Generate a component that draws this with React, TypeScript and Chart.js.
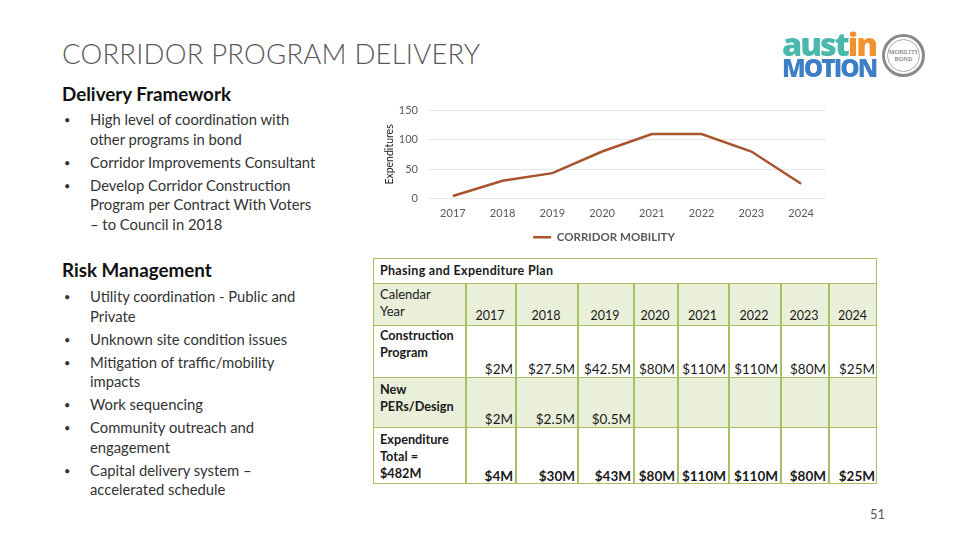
import React, { useEffect, useRef } from "react";
import { Chart, registerables } from "chart.js";

Chart.register(...registerables);

const years = ["2017", "2018", "2019", "2020", "2021", "2022", "2023", "2024"];
const expenditures = [4, 30, 43, 80, 110, 110, 80, 25];
const yTicks = [0, 50, 100, 150];
const seriesName = "CORRIDOR MOBILITY";

const constructionRow = ["$2M", "$27.5M", "$42.5M", "$80M", "$110M", "$110M", "$80M", "$25M"];
const designRow = ["$2M", "$2.5M", "$0.5M", "", "", "", "", ""];
const totalRow = ["$4M", "$30M", "$43M", "$80M", "$110M", "$110M", "$80M", "$25M"];

const deliveryBullets = [
  "High level of coordination with other programs in bond",
  "Corridor Improvements Consultant",
  "Develop Corridor Construction Program per Contract With Voters – to Council in 2018",
];
const riskBullets = [
  "Utility coordination - Public and Private",
  "Unknown site condition issues",
  "Mitigation of traffic/mobility impacts",
  "Work sequencing",
  "Community outreach and engagement",
  "Capital delivery system – accelerated schedule",
];

const FONT = "Lato, 'Open Sans', sans-serif";
const GREEN_BG = "#e9efd9";
const GREEN_BORDER = "#a8c060";

function LineChart() {
  const ref = useRef<HTMLCanvasElement | null>(null);
  useEffect(() => {
    if (!ref.current) return;
    const chart = new Chart(ref.current, {
      type: "line",
      data: {
        labels: years,
        datasets: [
          {
            label: seriesName,
            data: expenditures,
            borderColor: "#a9532f",
            backgroundColor: "#a9532f",
            borderWidth: 2.5,
            pointRadius: 0,
            tension: 0,
          },
        ],
      },
      options: {
        animation: false,
        responsive: false,
        maintainAspectRatio: false,
        layout: { padding: { left: 0, right: 4, top: 10, bottom: 0 } },
        plugins: {
          legend: {
            position: "bottom",
            labels: {
              usePointStyle: true,
              pointStyle: "line",
              pointStyleWidth: 18,
              color: "#595959",
              font: { family: FONT, size: 11.5, weight: "bold" },
              padding: 2,
            },
          },
          tooltip: { enabled: false },
        },
        scales: {
          x: {
            offset: true,
            grid: { display: false, drawTicks: false },
            border: { display: false },
            ticks: { color: "#595959", font: { family: FONT, size: 11 }, padding: 9 },
          },
          y: {
            min: 0,
            max: 150,
            afterBuildTicks: (axis: any) => {
              axis.ticks = yTicks.map((v) => ({ value: v }));
            },
            afterFit: (axis: any) => {
              axis.width = 46;
            },
            grid: { color: "#e6e6e6", drawTicks: false },
            border: { display: false },
            ticks: { color: "#595959", font: { family: FONT, size: 11 }, padding: 10 },
            title: {
              display: true,
              text: "Expenditures",
              color: "#222",
              font: { family: FONT, size: 10.5 },
              padding: 1,
            },
          },
        },
      },
    });
    return () => chart.destroy();
  }, []);
  return <canvas ref={ref} width={448} height={159} style={{ position: "absolute", left: 382, top: 94, width: 448, height: 159 }} />;
}

function Bullets({ items, top }: { items: string[]; top: number }) {
  return (
    <div style={{ position: "absolute", left: 62, top, width: 259, fontFamily: FONT, fontSize: 14.8, color: "#333", lineHeight: "19.5px" }}>
      {items.map((t, i) => (
        <div key={i} style={{ position: "relative", paddingLeft: 28, marginBottom: 3.5 }}>
          <span style={{ position: "absolute", left: 2, top: 0, fontSize: 11 }}>•</span>
          {t}
        </div>
      ))}
    </div>
  );
}

const colEdges = [373, 465, 515, 577, 633, 677, 728, 780, 828, 877];
const rowEdges = [258, 283, 325, 377, 427, 484];

function Table() {
  const cells: React.ReactNode[] = [];
  const rowBg = ["#fff", GREEN_BG, "#fff", GREEN_BG, "#fff"];
  rowEdges.slice(0, -1).forEach((y, r) => {
    cells.push(
      <div key={"bg" + r} style={{ position: "absolute", left: colEdges[0], top: y, width: colEdges[9] - colEdges[0], height: rowEdges[r + 1] - y, background: rowBg[r], boxSizing: "border-box", borderTop: `1.5px solid ${GREEN_BORDER}` }} />
    );
  });
  colEdges.slice(1, -1).forEach((x, i) => {
    cells.push(<div key={"v" + i} style={{ position: "absolute", left: x, top: rowEdges[1], width: 1.5, height: rowEdges[5] - rowEdges[1], background: GREEN_BORDER }} />);
  });
  cells.push(<div key="outer" style={{ position: "absolute", left: colEdges[0], top: rowEdges[0], width: colEdges[9] - colEdges[0], height: rowEdges[5] - rowEdges[0], border: `1.5px solid ${GREEN_BORDER}`, boxSizing: "border-box" }} />);

  const txt = (key: string, x: number, y: number, w: number, content: string, opts: any = {}) =>
    cells.push(
      <div key={key} style={{ position: "absolute", left: x, top: y, width: w, fontFamily: FONT, fontSize: 12, color: "#1a1a1a", whiteSpace: "pre-line", lineHeight: "17px", ...opts }}>
        {content}
      </div>
    );

  txt("hdr", 380, 262, 300, "Phasing and Expenditure Plan", { fontWeight: "bold", fontSize: 12.5, letterSpacing: 0.3 });
  txt("cy", 380, 286, 80, "Calendar\nYear", { fontSize: 13 });
  txt("cp", 380, 327, 84, "Construction\nProgram", { fontWeight: "bold", fontSize: 12.7 });
  txt("nd", 380, 381, 84, "New\nPERs/Design", { fontWeight: "bold", fontSize: 12.7 });
  txt("et", 380, 431, 84, "Expenditure\nTotal =\n$482M", { fontWeight: "bold", fontSize: 12.7 });

  for (let i = 0; i < 8; i++) {
    const x = colEdges[i + 1];
    const w = colEdges[i + 2] - x;
    txt("y" + i, x, 307, w, years[i], { textAlign: "center", fontSize: 12.5 });
    txt("c" + i, x - 6, 361, w + 4, constructionRow[i], { textAlign: "right", fontSize: 13.5 });
    txt("d" + i, x - 6, 411, w + 4, designRow[i], { textAlign: "right", fontSize: 13.5 });
    txt("t" + i, x - 6, 468, w + 4, totalRow[i], { textAlign: "right", fontSize: 13.5, fontWeight: "bold" });
  }
  return <>{cells}</>;
}

function Logo() {
  const ref = useRef<HTMLCanvasElement | null>(null);
  useEffect(() => {
    const c = ref.current;
    if (!c) return;
    const draw = () => {
      const ctx = c.getContext("2d");
      if (!ctx) return;
      ctx.clearRect(0, 0, c.width, c.height);
      (ctx as any).letterSpacing = "-2px";
      ctx.textBaseline = "alphabetic";
      ctx.font = "800 32.5px 'Open Sans'";
      ctx.fillStyle = "#4bb8ad";
      ctx.fillText("aust", 4, 36);
      const w = ctx.measureText("aust").width;
      ctx.fillStyle = "#f0922e";
      ctx.fillText("in", 4 + w, 36);
      ctx.font = "800 24.5px 'Open Sans'";
      ctx.fillStyle = "#3d7fc4";
      ctx.fillText("MOTION", 4, 57);
    };
    draw();
    const fonts: any = (document as any).fonts;
    if (fonts && fonts.load) {
      fonts.load("800 32px 'Open Sans'").then(draw).catch(() => {});
    }
  }, []);
  return (
    <>
      <canvas ref={ref} width={100} height={62} style={{ position: "absolute", left: 778, top: 20, width: 100, height: 62 }} />
      <div style={{ position: "absolute", left: 882, top: 34, width: 43, height: 43, borderRadius: "50%", border: "3px solid #8a8a8a", boxSizing: "border-box", display: "flex", flexDirection: "column", alignItems: "center", justifyContent: "center", fontFamily: "'DejaVu Serif', serif", fontSize: 5.5, color: "#555", lineHeight: "7px" }}>
        <div style={{ position: "absolute", inset: 2, borderRadius: "50%", border: "1px solid #aaa" }} />
        <span>MOBILITY</span>
        <span>BOND</span>
      </div>
    </>
  );
}

export default function App() {
  useEffect(() => {
    document.body.style.margin = "0";
  }, []);
  return (
    <div style={{ position: "fixed", left: 0, top: 0, width: 960, height: 540, background: "#fff", overflow: "hidden" }}>
      <div style={{ position: "absolute", left: 62, top: 37, fontFamily: FONT, fontWeight: 300, fontSize: 27.5, color: "#595959", letterSpacing: 0.2, whiteSpace: "nowrap" }}>CORRIDOR PROGRAM DELIVERY</div>
      <Logo />
      <div style={{ position: "absolute", left: 62, top: 82, fontFamily: FONT, fontWeight: "bold", fontSize: 18.8, color: "#111" }}>Delivery Framework</div>
      <Bullets items={deliveryBullets} top={110} />
      <div style={{ position: "absolute", left: 62, top: 258, fontFamily: FONT, fontWeight: "bold", fontSize: 18.8, color: "#111" }}>Risk Management</div>
      <Bullets items={riskBullets} top={287} />
      <LineChart />
      <Table />
      <div style={{ position: "absolute", left: 870, top: 506, fontFamily: FONT, fontSize: 13, color: "#595959" }}>51</div>
    </div>
  );
}
